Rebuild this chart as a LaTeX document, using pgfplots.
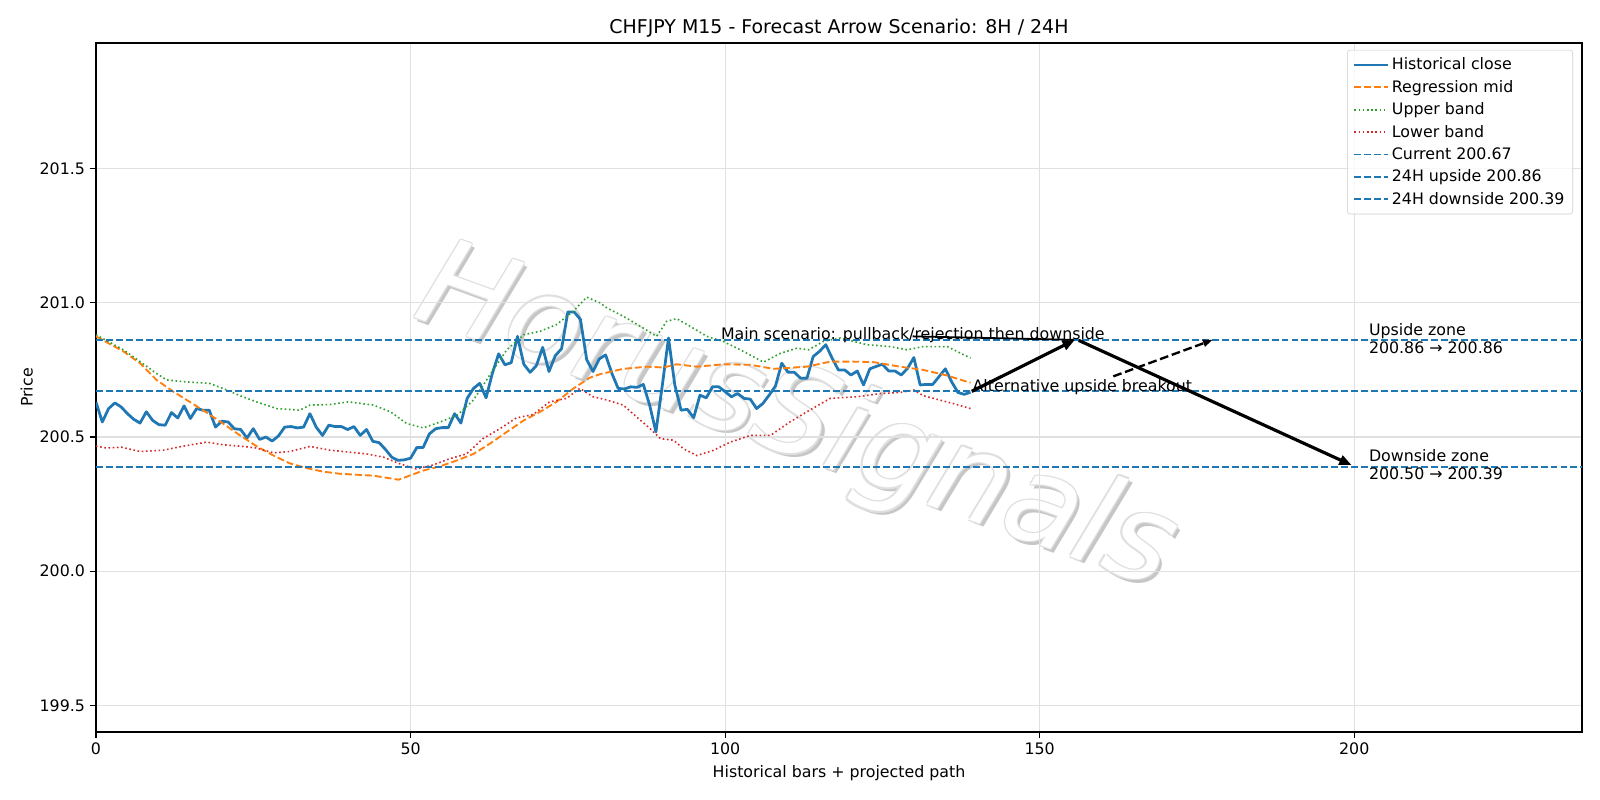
\documentclass[border=0pt]{standalone}
\usepackage{fontspec}
\setmainfont{DejaVu Sans}
\usepackage{pgfplots}
\pgfplotsset{compat=1.18}
\usetikzlibrary{arrows.meta}
\definecolor{tblue}{HTML}{1F77B4}
\definecolor{torange}{HTML}{FF7F0E}
\definecolor{tgreen}{HTML}{2CA02C}
\definecolor{tred}{HTML}{D62728}
\newcommand{\fsz}{\fontsize{11.43}{13.7}\selectfont}
\begin{document}
\fsz
\begin{tikzpicture}
\useasboundingbox (0,0) rectangle (16in,8in);
% watermark
\begin{scope}[every node/.style={rotate=-20, font=\fontsize{88}{90}\selectfont\itshape, inner sep=0}]
\node[text=gray!45] at ([shift={(2.6pt,-2.6pt)}]7.96in,3.79in) {HorusSignals};
\node[text=gray!25] at ([shift={(0.9pt,0.9pt)}]7.96in,3.79in) {HorusSignals};
\node[text=gray!25] at ([shift={(-0.9pt,-0.9pt)}]7.96in,3.79in) {HorusSignals};
\node[text=gray!25] at ([shift={(-0.9pt,0.9pt)}]7.96in,3.79in) {HorusSignals};
\node[text=gray!25] at ([shift={(0.9pt,-0.9pt)}]7.96in,3.79in) {HorusSignals};
\node[text=white] at (7.96in,3.79in) {HorusSignals};
\end{scope}
\begin{axis}[
  at={(0.96in,0.68in)}, anchor=south west,
  width=14.86in, height=6.89in, scale only axis,
  xmin=0, xmax=236.2, ymin=199.401, ymax=201.968,
  xtick={0,50,100,150,200}, ytick={199.5,200,200.5,201,201.5},
  scaled ticks=false,
  yticklabel style={/pgf/number format/.cd, fixed, fixed zerofill, precision=1},
  /pgf/number format/assume math mode=true,
  ticklabel style={font=\fsz},
  tick pos=left, tick align=outside, major tick length=4pt,
  tick style={black, line width=0.9pt},
  axis line style={line width=0.9pt},
  grid=major, grid style={black!12, line width=0.9pt},
  title={CHFJPY M15 - Forecast Arrow Scenario: 8H / 24H},
  title style={font=\fontsize{13.7}{16}\selectfont, yshift=-6pt},
  xlabel={Historical bars + projected path},
  ylabel={Price},
  label style={font=\fsz},
  ylabel style={yshift=-3pt},
  legend style={at={(1,1)}, anchor=north east, xshift=-6.5pt, yshift=-5pt,
    draw=black!20, rounded corners=2pt, fill=white, fill opacity=0.8, text opacity=1,
    font=\fsz, row sep=1.8pt, inner xsep=4pt, inner ysep=3.5pt},
  legend cell align=left,
  legend image code/.code={\draw[#1] (0cm,0cm) -- (0.85cm,0cm);},
]
\addplot[tblue, line width=2pt, line join=round] coordinates {
(0,200.63) (1,200.556) (2,200.606) (3,200.627) (4,200.612) (5,200.587) (6,200.566) (7,200.552) (8,200.594) (9,200.562)
(10,200.546) (11,200.544) (12,200.591) (13,200.571) (14,200.616) (15,200.569) (16,200.606) (17,200.600) (18,200.600) (19,200.537)
(20,200.559) (21,200.556) (22,200.531) (23,200.528) (24,200.496) (25,200.531) (26,200.491) (27,200.500) (28,200.485) (29,200.504)
(30,200.537) (31,200.539) (32,200.534) (33,200.537) (34,200.587) (35,200.537) (36,200.506) (37,200.544) (38,200.539) (39,200.539)
(40,200.528) (41,200.539) (42,200.506) (43,200.528) (44,200.484) (45,200.479) (46,200.454) (47,200.425) (48,200.413) (49,200.415)
(50,200.421) (51,200.461) (52,200.461) (53,200.512) (54,200.531) (55,200.535) (56,200.535) (57,200.587) (58,200.552) (59,200.644)
(60,200.681) (61,200.700) (62,200.646) (63,200.737) (64,200.810) (65,200.769) (66,200.777) (67,200.875) (68,200.771) (69,200.741)
(70,200.766) (71,200.834) (72,200.744) (73,200.803) (74,200.829) (75,200.966) (76,200.966) (77,200.938) (78,200.788) (79,200.744)
(80,200.791) (81,200.806) (82,200.737) (83,200.681) (84,200.679) (85,200.687) (86,200.685) (87,200.696) (88,200.619) (89,200.519)
(90,200.69) (91,200.869) (92,200.694) (93,200.600) (94,200.603) (95,200.572) (96,200.656) (97,200.646) (98,200.687) (99,200.687)
(100,200.669) (101,200.650) (102,200.662) (103,200.644) (104,200.641) (105,200.606) (106,200.625) (107,200.656) (108,200.690) (109,200.775)
(110,200.741) (111,200.741) (112,200.719) (113,200.719) (114,200.800) (115,200.819) (116,200.844) (117,200.794) (118,200.750) (119,200.750)
(120,200.731) (121,200.746) (122,200.694) (123,200.754) (124,200.763) (125,200.771) (126,200.746) (127,200.746) (128,200.731) (129,200.756)
(130,200.796) (131,200.694) (132,200.696) (133,200.696) (134,200.725) (135,200.754) (136,200.706) (137,200.666) (138,200.659) (139,200.667)
};
\addlegendentry{Historical close}
\addplot[torange, line width=1.35pt, dash pattern=on 5pt off 2.2pt] coordinates {
(0,200.875) (4.35,200.819) (7,200.775) (9.6,200.713) (12.3,200.669) (14.9,200.631) (17.6,200.591) (20.2,200.550) (22.9,200.506)
(25.5,200.466) (28.2,200.431) (30.8,200.402) (33.5,200.384) (36.1,200.371) (38.8,200.363) (44.1,200.356) (48.1,200.341)
(52.0,200.375) (54.7,200.391) (57.4,200.413) (60,200.437) (62.6,200.475) (65.3,200.519) (68,200.562) (70.6,200.594)
(73.2,200.631) (75.9,200.681) (78.5,200.721) (80.1,200.734) (83.8,200.754) (87.6,200.762) (90.2,200.759) (92.3,200.771)
(95.5,200.762) (99.7,200.771) (104,200.769) (107.7,200.754) (113,200.762) (116.7,200.781) (119.9,200.781) (123.6,200.779)
(127.8,200.762) (131.5,200.750) (135.3,200.729) (139,200.702)
};
\addlegendentry{Regression mid}
\addplot[tgreen, line width=1.15pt, dash pattern=on 1.15pt off 1.9pt] coordinates {
(0,200.881) (4.35,200.825) (7,200.781) (9.6,200.737) (11.2,200.713) (13.9,200.706) (18,200.700) (20.2,200.681) (22.9,200.654)
(25.5,200.631) (28.7,200.606) (32.4,200.600) (34,200.619) (37.2,200.621) (40.1,200.631) (44.1,200.619) (46.8,200.594)
(49.4,200.550) (52,200.534) (54.7,200.556) (57.4,200.581) (60,200.638) (62.6,200.731) (65.3,200.825) (68,200.881)
(70.6,200.894) (73.2,200.919) (75.9,200.969) (78,201.021) (80.1,201.000) (81.2,200.981) (83.8,200.950) (86.5,200.913)
(89.1,200.875) (90.7,200.931) (92.3,200.941) (94.4,200.913) (97.1,200.875) (99.7,200.856) (102.4,200.825) (106.1,200.779)
(108.8,200.812) (111.4,200.831) (113.3,200.825) (115.6,200.856) (118.3,200.869) (122.5,200.844) (126.2,200.837)
(128.9,200.825) (131.5,200.837) (135.3,200.837) (139,200.794)
};
\addlegendentry{Upper band}
\addplot[tred, line width=1.15pt, dash pattern=on 1.15pt off 1.9pt] coordinates {
(0,200.466) (1.7,200.459) (4.1,200.462) (7,200.446) (10.7,200.451) (13.9,200.466) (17.6,200.481) (20.2,200.471) (22.9,200.466)
(25.5,200.459) (28.2,200.441) (30.8,200.446) (34,200.465) (37.2,200.451) (40.1,200.444) (43,200.437) (45.7,200.425)
(48.3,200.400) (50.9,200.381) (53.6,200.396) (56.2,200.419) (58.9,200.437) (61.5,200.494) (64.2,200.531) (66.8,200.571)
(69.5,200.584) (72.1,200.631) (74.8,200.644) (76.9,200.681) (79,200.650) (81.2,200.638) (83.8,200.619) (86.5,200.563)
(88.1,200.531) (89.7,200.494) (91.8,200.488) (93.4,200.456) (95.5,200.431) (98.1,200.450) (100.8,200.481) (104,200.506)
(107.2,200.506) (110.3,200.556) (113,200.594) (116.7,200.644) (121,200.650) (124.7,200.662) (127.8,200.666) (130,200.675)
(131.5,200.654) (134.1,200.638) (136.2,200.625) (139,200.606)
};
\addlegendentry{Lower band}
\addplot[tblue, line width=1.4pt, dash pattern=on 5pt off 2.2pt] coordinates {(0,200.67) (236.2,200.67)};
\addlegendentry{Current 200.67}
\addplot[tblue, line width=1.4pt, dash pattern=on 5pt off 2.2pt] coordinates {(0,200.86) (236.2,200.86)};
\addlegendentry{24H upside 200.86}
\addplot[tblue, line width=1.4pt, dash pattern=on 5pt off 2.2pt] coordinates {(0,200.39) (236.2,200.39)};
\addlegendentry{24H downside 200.39}
% annotations
\draw[line width=1.3pt] (axis cs:129.8,200.875) -- (axis cs:155.4,200.862);
\draw[-{Triangle[length=9pt,width=7pt]}, line width=2.3pt] (axis cs:139.2,200.67) -- (axis cs:155.6,200.862);
\draw[-{Triangle[length=9pt,width=7pt]}, line width=2.3pt] (axis cs:156.2,200.86) -- (axis cs:199.6,200.395);
\draw[-{Triangle[length=7pt,width=5pt]}, line width=1.7pt, dash pattern=on 6.3pt off 2.7pt] (axis cs:161.7,200.726) -- (axis cs:177.5,200.862);
\node[anchor=base west, inner sep=0] at (axis cs:99.3,200.862) {Main scenario: pullback/rejection then downside};
\node[anchor=base west, inner sep=0] at (axis cs:139.3,200.668) {Alternative upside breakout};
\node[anchor=west, align=left, inner sep=0, font=\fontsize{11.43}{13.2}\selectfont] at (axis cs:202.3,200.868) {Upside zone\\200.86 → 200.86};
\node[anchor=west, align=left, inner sep=0, font=\fontsize{11.43}{13.2}\selectfont] at (axis cs:202.3,200.398) {Downside zone\\200.50 → 200.39};
\end{axis}
\end{tikzpicture}
\end{document}
